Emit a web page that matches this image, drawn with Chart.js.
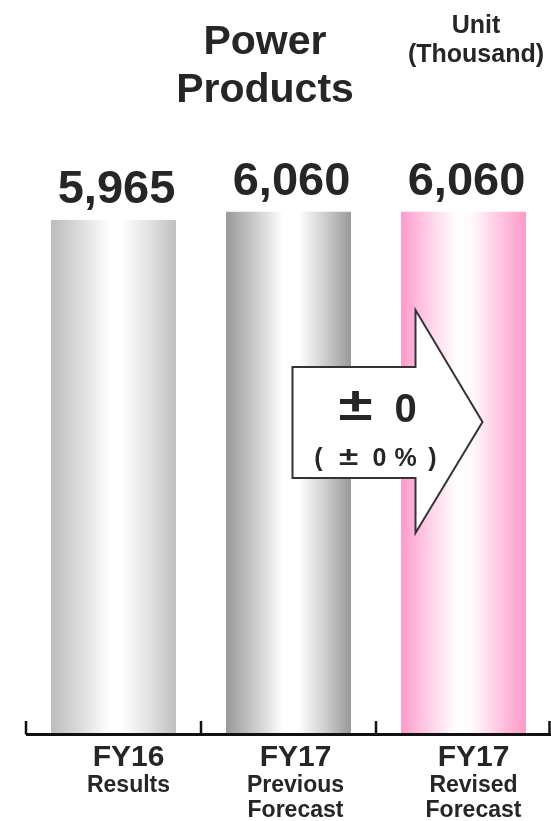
<!DOCTYPE html>
<html>
<head>
<meta charset="utf-8">
<script src="https://cdn.jsdelivr.net/npm/chart.js@4"></script>
<style>
  html, body { margin: 0; padding: 0; background: #fff; }
  #wrap { width: 551px; height: 821px; position: relative; }
</style>
</head>
<body>
<div id="wrap"><canvas id="myChart"></canvas></div>
<script>
const categories = ["FY16", "FY17", "FY17"];
const subLabels = [["Results"], ["Previous", "Forecast"], ["Revised", "Forecast"]];
const units = [5965, 6060, 6060];
const changeValue = "0";
const changePct = "0";

const FONT = "'Liberation Sans', Arial, sans-serif";
const TEXT = "#262626";

// cylinder look: edge colour -> white -> edge colour
const barStops = [
  [[0, "#bcbcbc"], [0.25, "#dedede"], [0.47, "#ffffff"], [0.56, "#ffffff"], [0.8, "#e0e0e0"], [1, "#bfbfbf"]],
  [[0, "#999999"], [0.25, "#cfcfcf"], [0.46, "#ffffff"], [0.58, "#ffffff"], [0.8, "#cccccc"], [1, "#999999"]],
  [[0, "#ff99cb"], [0.22, "#ffcfe6"], [0.45, "#ffffff"], [0.58, "#fff8fb"], [0.8, "#ffc4e0"], [1, "#ff99cb"]],
];
// label nudges to the right of each bar centre
const labelShift = [15, 7, 10];

function barGradient(context) {
  const chart = context.chart;
  const x = chart.scales.x;
  if (!chart.chartArea || !x || context.dataIndex === undefined) return "#ccc";
  const i = context.dataIndex;
  const cx = x.getPixelForValue(i);
  const w = (x.width / categories.length) * 0.714;
  const g = chart.ctx.createLinearGradient(cx - w / 2, 0, cx + w / 2, 0);
  barStops[i].forEach(([p, c]) => g.addColorStop(p, c));
  return g;
}

// draw a row of text pieces, each centred at its own x
function pieces(ctx, list, y) {
  list.forEach(([t, px]) => ctx.fillText(t, px, y));
}

// values, axis, category labels, title and the change arrow
const decorations = {
  id: "decorations",
  afterDatasetsDraw(chart) {
    const { ctx, chartArea } = chart;
    const x = chart.scales.x;
    const meta = chart.getDatasetMeta(0);
    const step = x.width / categories.length;
    ctx.save();
    ctx.fillStyle = TEXT;
    ctx.textAlign = "center";

    // value on top of each bar
    ctx.font = "bold 47px " + FONT;
    ctx.textBaseline = "alphabetic";
    meta.data.forEach((bar, i) => {
      ctx.fillText(units[i].toLocaleString("en-US"), bar.x + 3, bar.y - 17);
    });

    // axis line with upward ticks at category borders
    const yb = chartArea.bottom + 1.5;
    ctx.strokeStyle = "#111";
    ctx.lineWidth = 3;
    ctx.beginPath();
    ctx.moveTo(chartArea.left, yb);
    ctx.lineTo(chartArea.right, yb);
    ctx.stroke();
    ctx.lineWidth = 2.5;
    for (let k = 0; k <= categories.length; k++) {
      const tx = Math.min(chartArea.left + k * step, chart.width - 1.5);
      ctx.beginPath();
      ctx.moveTo(tx, yb);
      ctx.lineTo(tx, chartArea.bottom - 12);
      ctx.stroke();
    }

    // category labels
    categories.forEach((c, i) => {
      const cx = x.getPixelForValue(i) + labelShift[i];
      ctx.font = "bold 30px " + FONT;
      ctx.fillText(c, cx, chartArea.bottom + 33);
      ctx.font = "bold 23px " + FONT;
      subLabels[i].forEach((s, j) => {
        ctx.fillText(s, cx, chartArea.bottom + 59 + j * 25);
      });
    });

    // title and unit
    ctx.font = "bold 41px " + FONT;
    ctx.fillText("Power", 265, 54);
    ctx.fillText("Products", 265, 102);
    ctx.font = "bold 25px " + FONT;
    ctx.fillText("Unit", 476, 33);
    ctx.fillText("(Thousand)", 476, 62);

    // change arrow from the previous to the revised forecast
    const p = x.getPixelForValue(1);
    const r = x.getPixelForValue(2);
    const left = p + 4, neck = r - 48, tip = r + 19;
    const top = 367, bot = 478, headTop = 310, headBot = 533, mid = 422;
    ctx.beginPath();
    ctx.moveTo(left, top);
    ctx.lineTo(neck, top);
    ctx.lineTo(neck, headTop);
    ctx.lineTo(tip, mid);
    ctx.lineTo(neck, headBot);
    ctx.lineTo(neck, bot);
    ctx.lineTo(left, bot);
    ctx.closePath();
    ctx.fillStyle = "#ffffff";
    ctx.fill();
    ctx.strokeStyle = "#333";
    ctx.lineWidth = 2;
    ctx.stroke();

    // "± 0" and "( ± 0 %)" with the wide plus-minus sign
    const c = p + 87;
    ctx.fillStyle = TEXT;
    ctx.font = "bold 46px " + FONT;
    ctx.save();
    ctx.translate(c - 20, 0);
    ctx.scale(1.35, 1);
    ctx.fillText("\u00B1", 0, 420);
    ctx.restore();
    ctx.font = "bold 40px " + FONT;
    ctx.fillText(changeValue, c + 30, 422);

    ctx.font = "bold 25px " + FONT;
    pieces(ctx, [["(", c - 57], [changePct, c + 4], ["%", c + 30], [")", c + 57]], 466);
    ctx.save();
    ctx.translate(c - 27, 0);
    ctx.scale(1.4, 1);
    ctx.fillText("\u00B1", 0, 465);
    ctx.restore();
    ctx.restore();
  },
};

const ctx = document.getElementById("myChart");

new Chart(ctx, {
  type: "bar",
  data: {
    labels: categories,
    datasets: [
      {
        label: "Power Products",
        data: units,
        backgroundColor: barGradient,
        borderWidth: 0,
        barPercentage: 0.714,
        categoryPercentage: 1,
      },
    ],
  },
  options: {
    responsive: true,
    maintainAspectRatio: false,
    animation: false,
    layout: {
      padding: { top: 45, bottom: 88, left: 26, right: 0 },
    },
    scales: {
      x: { display: false },
      y: { display: false, min: 0, max: 8000 },
    },
    plugins: {
      legend: { display: false },
      tooltip: { enabled: false },
    },
  },
  plugins: [decorations],
});
</script>
</body>
</html>
